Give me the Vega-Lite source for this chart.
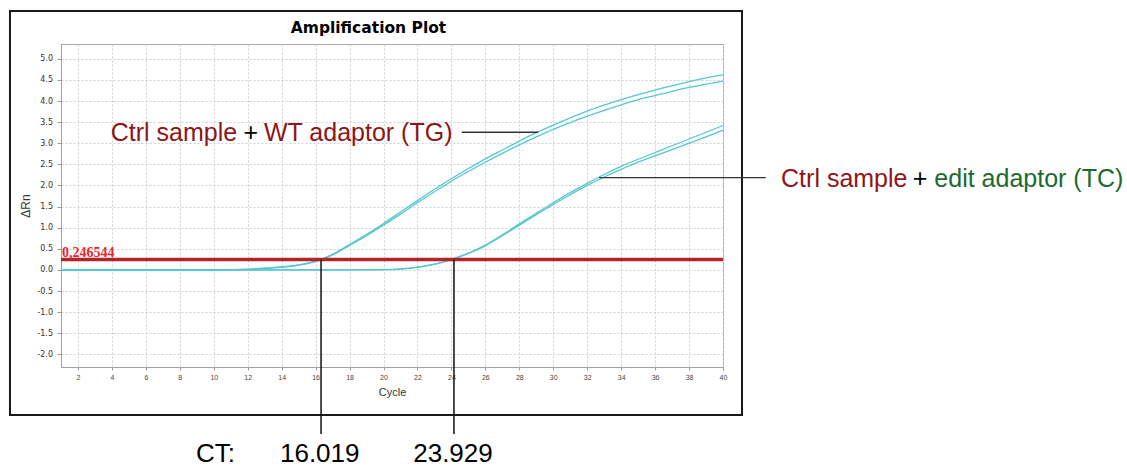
{
  "$schema": "https://vega.github.io/schema/vega-lite/v6.json",
  "width": 662,
  "height": 323,
  "autosize": {"type": "none"},
  "padding": {"left": 61, "top": 44, "right": 404, "bottom": 100},
  "background": "white",
  "config": {
    "view": {"stroke": "#a8a8a8", "strokeWidth": 1},
    "text": {"font": "Liberation Sans"}
  },
  "data": {"values": [{}]},
  "datasets": {
    "curves": [
      {"cycle": 1, "wt1": 0.0, "wt2": -0.005, "ed1": -0.01, "ed2": -0.012},
      {"cycle": 2, "wt1": 0.0, "wt2": -0.004, "ed1": -0.008, "ed2": -0.01},
      {"cycle": 3, "wt1": 0.002, "wt2": -0.003, "ed1": -0.006, "ed2": -0.009},
      {"cycle": 4, "wt1": 0.003, "wt2": -0.002, "ed1": -0.005, "ed2": -0.008},
      {"cycle": 5, "wt1": 0.004, "wt2": 0.0, "ed1": -0.004, "ed2": -0.007},
      {"cycle": 6, "wt1": 0.004, "wt2": 0.0, "ed1": -0.003, "ed2": -0.006},
      {"cycle": 7, "wt1": 0.003, "wt2": 0.0, "ed1": -0.003, "ed2": -0.006},
      {"cycle": 8, "wt1": 0.002, "wt2": -0.001, "ed1": -0.003, "ed2": -0.006},
      {"cycle": 9, "wt1": 0.002, "wt2": -0.001, "ed1": -0.003, "ed2": -0.005},
      {"cycle": 10, "wt1": 0.003, "wt2": 0.0, "ed1": -0.003, "ed2": -0.005},
      {"cycle": 11, "wt1": 0.008, "wt2": 0.004, "ed1": -0.002, "ed2": -0.004},
      {"cycle": 12, "wt1": 0.02, "wt2": 0.014, "ed1": -0.001, "ed2": -0.003},
      {"cycle": 13, "wt1": 0.04, "wt2": 0.033, "ed1": 0.0, "ed2": -0.002},
      {"cycle": 14, "wt1": 0.07, "wt2": 0.062, "ed1": 0.0, "ed2": -0.002},
      {"cycle": 15, "wt1": 0.12, "wt2": 0.11, "ed1": 0.0, "ed2": -0.001},
      {"cycle": 16, "wt1": 0.205, "wt2": 0.195, "ed1": 0.0, "ed2": -0.001},
      {"cycle": 17, "wt1": 0.37, "wt2": 0.355, "ed1": 0.001, "ed2": 0.0},
      {"cycle": 18, "wt1": 0.6, "wt2": 0.58, "ed1": 0.002, "ed2": 0.001},
      {"cycle": 19, "wt1": 0.84, "wt2": 0.81, "ed1": 0.004, "ed2": 0.002},
      {"cycle": 20, "wt1": 1.1, "wt2": 1.06, "ed1": 0.008, "ed2": 0.005},
      {"cycle": 21, "wt1": 1.37, "wt2": 1.32, "ed1": 0.025, "ed2": 0.02},
      {"cycle": 22, "wt1": 1.64, "wt2": 1.59, "ed1": 0.065, "ed2": 0.058},
      {"cycle": 23, "wt1": 1.91, "wt2": 1.85, "ed1": 0.135, "ed2": 0.128},
      {"cycle": 24, "wt1": 2.16, "wt2": 2.1, "ed1": 0.25, "ed2": 0.24},
      {"cycle": 25, "wt1": 2.4, "wt2": 2.33, "ed1": 0.4, "ed2": 0.39},
      {"cycle": 26, "wt1": 2.63, "wt2": 2.55, "ed1": 0.59, "ed2": 0.57},
      {"cycle": 27, "wt1": 2.84, "wt2": 2.76, "ed1": 0.83, "ed2": 0.81},
      {"cycle": 28, "wt1": 3.05, "wt2": 2.96, "ed1": 1.09, "ed2": 1.06},
      {"cycle": 29, "wt1": 3.25, "wt2": 3.15, "ed1": 1.34, "ed2": 1.31},
      {"cycle": 30, "wt1": 3.43, "wt2": 3.33, "ed1": 1.59, "ed2": 1.55},
      {"cycle": 31, "wt1": 3.6, "wt2": 3.49, "ed1": 1.83, "ed2": 1.78},
      {"cycle": 32, "wt1": 3.76, "wt2": 3.64, "ed1": 2.05, "ed2": 2.0},
      {"cycle": 33, "wt1": 3.9, "wt2": 3.78, "ed1": 2.26, "ed2": 2.2},
      {"cycle": 34, "wt1": 4.03, "wt2": 3.91, "ed1": 2.45, "ed2": 2.38},
      {"cycle": 35, "wt1": 4.15, "wt2": 4.03, "ed1": 2.62, "ed2": 2.55},
      {"cycle": 36, "wt1": 4.26, "wt2": 4.13, "ed1": 2.78, "ed2": 2.7},
      {"cycle": 37, "wt1": 4.36, "wt2": 4.23, "ed1": 2.94, "ed2": 2.85},
      {"cycle": 38, "wt1": 4.46, "wt2": 4.32, "ed1": 3.1, "ed2": 3.0},
      {"cycle": 39, "wt1": 4.55, "wt2": 4.4, "ed1": 3.26, "ed2": 3.15},
      {"cycle": 40, "wt1": 4.62, "wt2": 4.47, "ed1": 3.42, "ed2": 3.31}
    ]
  },
  "layer": [
    {
      "data": {"name": "curves"},
      "transform": [{"fold": ["wt1", "wt2", "ed1", "ed2"], "as": ["well", "rn"]}],
      "mark": {"type": "line", "interpolate": "monotone", "color": "#55c7d1", "strokeWidth": 1.3},
      "encoding": {
        "x": {
          "field": "cycle", "type": "quantitative",
          "scale": {"domain": [1, 40], "nice": false, "zero": false},
          "axis": {
            "title": "Cycle",
            "values": [2, 4, 6, 8, 10, 12, 14, 16, 18, 20, 22, 24, 26, 28, 30, 32, 34, 36, 38, 40],
            "tickCount": 40,
            "format": "d",
            "labelFont": "Liberation Sans", "labelFontSize": 7, "labelColor": "#444444",
            "labelPadding": 3.5, "labelFlush": false, "labelOverlap": false, "labelBound": false,
            "tickSize": 3, "tickColor": "#999999",
            "domainColor": "#a0a0a0",
            "grid": true, "gridColor": "#cfcfcf", "gridDash": [2, 2], "gridWidth": 1,
            "titleFont": "Liberation Sans", "titleFontSize": 11, "titleFontWeight": "normal",
            "titleColor": "#333333", "titlePadding": 6
          }
        },
        "y": {
          "field": "rn", "type": "quantitative",
          "scale": {"domain": [-2.3, 5.35], "nice": false, "zero": false},
          "axis": {
            "title": "ΔRn",
            "values": [-2, -1.5, -1, -0.5, 0, 0.5, 1, 1.5, 2, 2.5, 3, 3.5, 4, 4.5, 5],
            "tickCount": 30,
            "labelExpr": "replace(format(datum.value, '.1f'), '\u2212', '-')",
            "labelFont": "DejaVu Sans", "labelFontSize": 8, "labelColor": "#333333",
            "labelPadding": 4.5, "labelOverlap": false, "labelBound": false, "labelFlush": false,
            "tickSize": 4, "tickColor": "#999999",
            "domainColor": "#a0a0a0",
            "grid": true, "gridColor": "#cfcfcf", "gridDash": [2, 2], "gridWidth": 1,
            "titleFont": "Liberation Sans", "titleFontSize": 12, "titleFontWeight": "normal",
            "titleColor": "#333333", "titlePadding": 4
          }
        },
        "detail": {"field": "well", "type": "nominal"}
      }
    },
    {
      "mark": {"type": "rect", "fill": null, "fillOpacity": 0, "stroke": "#1a1a1a", "strokeWidth": 2, "clip": false},
      "encoding": {
        "x": {"datum": -2.005}, "x2": {"datum": 41.12},
        "y": {"datum": 6.132}, "y2": {"datum": -3.437}
      }
    },
    {
      "mark": {"type": "rule", "color": "#b5242a", "strokeWidth": 3.5},
      "encoding": {"y": {"datum": 0.2465}}
    },
    {
      "mark": {"type": "text", "text": "0,246544", "font": "Liberation Serif", "fontWeight": "bold", "fontSize": 14, "color": "#e3262b", "align": "left", "baseline": "alphabetic", "clip": false},
      "encoding": {"x": {"datum": 1.06}, "y": {"datum": 0.317}}
    },
    {
      "mark": {"type": "rule", "color": "#111111", "strokeWidth": 1.5, "clip": false},
      "encoding": {"x": {"datum": 16.32}, "y": {"datum": 0.2465}, "y2": {"datum": -3.887}}
    },
    {
      "mark": {"type": "rule", "color": "#111111", "strokeWidth": 1.5, "clip": false},
      "encoding": {"x": {"datum": 24.15}, "y": {"datum": 0.2465}, "y2": {"datum": -3.887}}
    },
    {
      "mark": {"type": "rule", "color": "#333333", "strokeWidth": 1.3, "clip": false},
      "encoding": {"x": {"datum": 24.61}, "x2": {"datum": 29.12}, "y": {"datum": 3.26}}
    },
    {
      "mark": {"type": "rule", "color": "#333333", "strokeWidth": 1.3, "clip": false},
      "encoding": {"x": {"datum": 32.7}, "x2": {"datum": 42.52}, "y": {"datum": 2.183}}
    },
    {
      "mark": {"type": "text", "text": "Amplification Plot", "font": "DejaVu Sans", "fontWeight": "bold", "fontSize": 15.5, "color": "#000000", "align": "center", "baseline": "alphabetic", "clip": false},
      "encoding": {"x": {"datum": 19.116}, "y": {"datum": 5.599}}
    },
    {
      "mark": {"type": "text", "text": "Ctrl sample", "fontSize": 25, "color": "#8e1518", "align": "left", "baseline": "alphabetic", "clip": false},
      "encoding": {"x": {"datum": 3.93}, "y": {"datum": 3.064}}
    },
    {
      "mark": {"type": "text", "text": "+", "fontSize": 25, "color": "#000000", "align": "center", "baseline": "alphabetic", "clip": false},
      "encoding": {"x": {"datum": 12.18}, "y": {"datum": 3.064}}
    },
    {
      "mark": {"type": "text", "text": "WT adaptor (TG)", "fontSize": 25, "color": "#8e1518", "align": "left", "baseline": "alphabetic", "clip": false},
      "encoding": {"x": {"datum": 12.96}, "y": {"datum": 3.064}}
    },
    {
      "mark": {"type": "text", "text": "Ctrl sample", "fontSize": 25, "color": "#8e1518", "align": "left", "baseline": "alphabetic", "clip": false},
      "encoding": {"x": {"datum": 43.42}, "y": {"datum": 1.97}}
    },
    {
      "mark": {"type": "text", "text": "+", "fontSize": 25, "color": "#000000", "align": "center", "baseline": "alphabetic", "clip": false},
      "encoding": {"x": {"datum": 51.61}, "y": {"datum": 1.97}}
    },
    {
      "mark": {"type": "text", "text": "edit adaptor (TC)", "fontSize": 25, "color": "#1b6b30", "align": "left", "baseline": "alphabetic", "clip": false},
      "encoding": {"x": {"datum": 52.45}, "y": {"datum": 1.97}}
    },
    {
      "mark": {"type": "text", "text": "CT:", "fontSize": 26, "color": "#000000", "align": "left", "baseline": "alphabetic", "clip": false},
      "encoding": {"x": {"datum": 8.95}, "y": {"datum": -4.54}}
    },
    {
      "mark": {"type": "text", "text": "16.019", "fontSize": 26, "color": "#000000", "align": "left", "baseline": "alphabetic", "clip": false},
      "encoding": {"x": {"datum": 13.9}, "y": {"datum": -4.54}}
    },
    {
      "mark": {"type": "text", "text": "23.929", "fontSize": 26, "color": "#000000", "align": "left", "baseline": "alphabetic", "clip": false},
      "encoding": {"x": {"datum": 21.75}, "y": {"datum": -4.54}}
    }
  ]
}
